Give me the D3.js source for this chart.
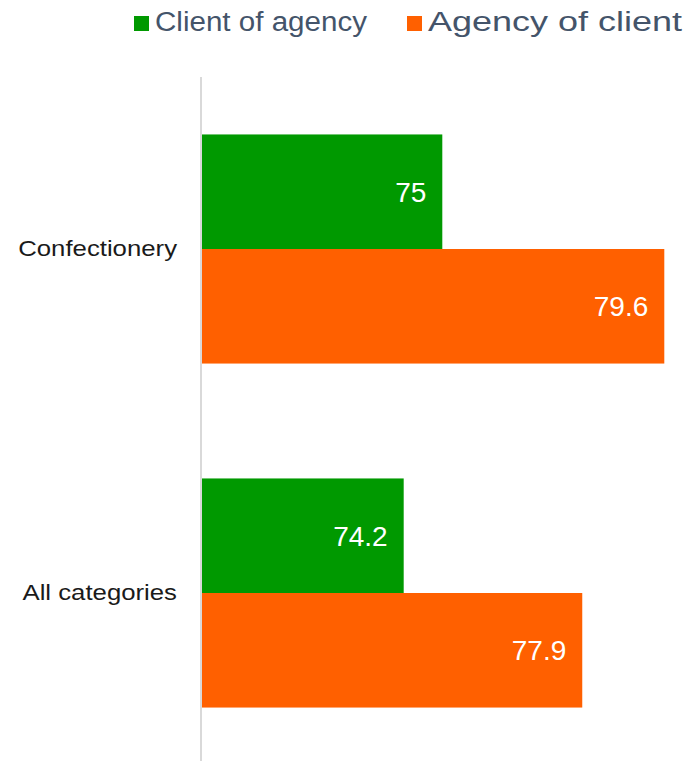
<!DOCTYPE html>
<html><head><meta charset="utf-8">
<script src="https://cdn.jsdelivr.net/npm/d3@7"></script>
<style>body{margin:0;background:#fff}svg{display:block}</style>
</head><body>
<script>
const categories = ["Confectionery", "All categories"];
const seriesNames = ["Client of agency", "Agency of client"];
const clientOfAgency = [75, 74.2];
const agencyOfClient = [79.6, 77.9];
const colors = ["#009900", "#ff6000"];
const xDomain = [70, 80];

const W = 688, H = 761;
const svg = d3.select("body").append("svg").attr("width", W).attr("height", H);
const font = "'Liberation Sans', 'DejaVu Sans', sans-serif";

const x = d3.scaleLinear().domain(xDomain).range([201, 683.6]);
const y = d3.scaleBand().domain(categories).range([77, 765]).paddingInner(0.334).paddingOuter(0.167);
const ys = d3.scaleBand().domain(seriesNames).range([0, y.bandwidth()]);

const data = categories.map((c, i) => ({cat: c, vals: [clientOfAgency[i], agencyOfClient[i]]}));

const g = svg.append("g");
data.forEach(d => {
  d.vals.forEach((v, j) => {
    const yy = y(d.cat) + ys(seriesNames[j]);
    g.append("rect").attr("x", x(xDomain[0])).attr("y", yy)
      .attr("width", x(v) - x(xDomain[0])).attr("height", ys.bandwidth())
      .attr("fill", colors[j]);
    g.append("text").attr("x", x(v) - 16).attr("y", yy + ys.bandwidth() / 2)
      .attr("dy", "0.36em").attr("text-anchor", "end")
      .attr("fill", "#fff").attr("font-family", font).attr("font-size", 28)
      .text(v);
  });
});

// axis line
const yAxis = d3.axisLeft(y).tickSize(0).tickPadding(24);
const ax = svg.append("g").attr("transform", `translate(${x(xDomain[0])},0)`).call(yAxis);
ax.select(".domain").attr("stroke", "#d9d9d9").attr("stroke-width", 2)
  .attr("d", `M0,77V761`);
ax.selectAll(".tick text").attr("font-family", font).attr("font-size", 22)
  .attr("fill", "#1a1a1a")
  .each(function() {
    const w = this.getComputedTextLength();
    d3.select(this).attr("textLength", w * 1.17).attr("lengthAdjust", "spacingAndGlyphs");
  });

// legend
const legendItems = [
  {name: seriesNames[0], color: colors[0], sx: 134, tx: 155, tw: 212},
  {name: seriesNames[1], color: colors[1], sx: 407, tx: 428, tw: 254}
];
const lg = svg.append("g");
legendItems.forEach(it => {
  lg.append("rect").attr("x", it.sx).attr("y", 16).attr("width", 15).attr("height", 15).attr("fill", it.color);
  lg.append("text").attr("x", it.tx).attr("y", 31).attr("font-family", font)
    .attr("font-size", 27).attr("fill", "#44546a")
    .attr("textLength", it.tw).attr("lengthAdjust", "spacingAndGlyphs")
    .text(it.name);
});
</script>
</body></html>
